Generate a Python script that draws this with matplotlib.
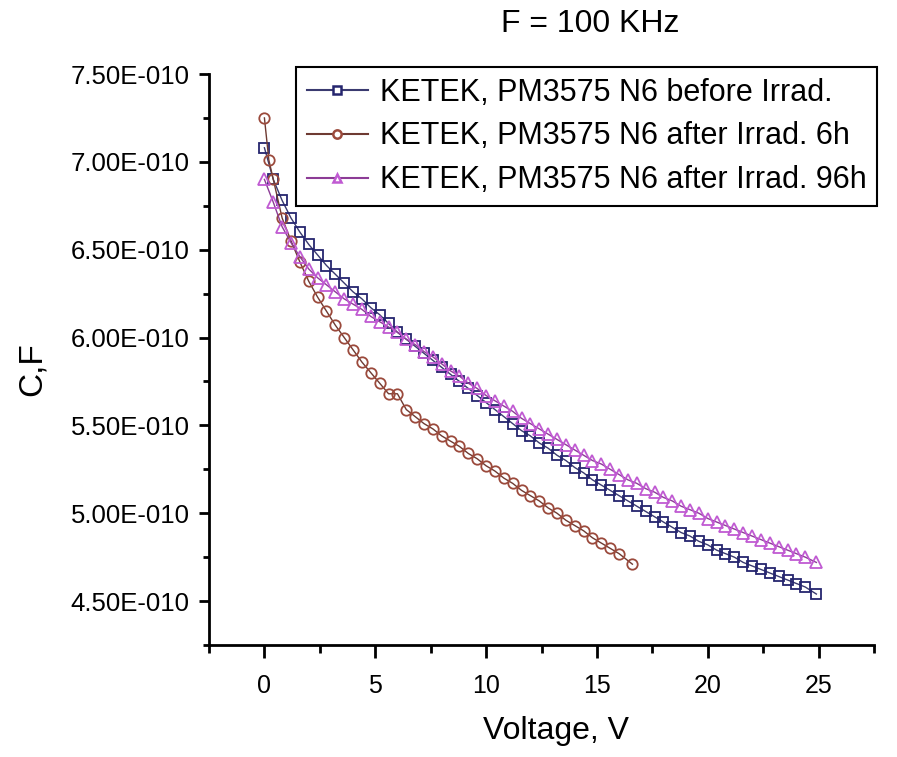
import numpy as np
import matplotlib
matplotlib.use("Agg")
import matplotlib.pyplot as plt
from matplotlib.ticker import MultipleLocator, FuncFormatter
from matplotlib.lines import Line2D

plt.rcParams['font.family'] = ['Liberation Sans', 'DejaVu Sans']

# ---- data (capacitance in units of 1e-10 F) ----
volts = [0.0, 0.4, 0.8, 1.2, 1.6, 2.0, 2.4, 2.8, 3.2, 3.6, 4.0, 4.4, 4.8, 5.2, 5.6,
         6.0, 6.4, 6.8, 7.2, 7.6, 8.0, 8.4, 8.8, 9.2, 9.6, 10.0, 10.4, 10.8, 11.2, 11.6,
         12.0, 12.4, 12.8, 13.2, 13.6, 14.0, 14.4, 14.8, 15.2, 15.6, 16.0, 16.4, 16.8,
         17.2, 17.6, 18.0, 18.4, 18.8, 19.2, 19.6, 20.0, 20.4, 20.8, 21.2, 21.6, 22.0,
         22.4, 22.8, 23.2, 23.6, 24.0, 24.4, 24.9]

c_before = [7.08, 6.90, 6.78, 6.68, 6.60, 6.53, 6.47, 6.41, 6.36, 6.31, 6.26, 6.22, 6.17, 6.13, 6.08,
            6.03, 5.99, 5.95, 5.91, 5.87, 5.83, 5.79, 5.75, 5.71, 5.67, 5.63, 5.59, 5.55, 5.51, 5.47,
            5.44, 5.40, 5.37, 5.33, 5.30, 5.26, 5.23, 5.19, 5.16, 5.13, 5.10, 5.07, 5.04,
            5.01, 4.98, 4.95, 4.92, 4.89, 4.87, 4.84, 4.82, 4.79, 4.77, 4.75, 4.72, 4.70,
            4.68, 4.66, 4.64, 4.62, 4.60, 4.58, 4.54]

c_96h = [6.90, 6.77, 6.63, 6.54, 6.46, 6.39, 6.34, 6.30, 6.26, 6.22, 6.19, 6.16, 6.12, 6.09, 6.06,
         6.03, 5.99, 5.96, 5.92, 5.89, 5.85, 5.81, 5.78, 5.74, 5.71, 5.67, 5.64, 5.61, 5.58, 5.54,
         5.51, 5.48, 5.45, 5.42, 5.39, 5.36, 5.33, 5.30, 5.28, 5.25, 5.22, 5.19, 5.17,
         5.14, 5.12, 5.09, 5.07, 5.04, 5.02, 5.00, 4.97, 4.95, 4.93, 4.91, 4.89, 4.87,
         4.85, 4.83, 4.81, 4.79, 4.77, 4.75, 4.72]

volts_6h = [0.0, 0.2, 0.4, 0.8, 1.2, 1.6, 2.0, 2.4, 2.8, 3.2, 3.6, 4.0, 4.4, 4.8, 5.2, 5.6,
            6.0, 6.4, 6.8, 7.2, 7.6, 8.0, 8.4, 8.8, 9.2, 9.6, 10.0, 10.4, 10.8, 11.2, 11.6,
            12.0, 12.4, 12.8, 13.2, 13.6, 14.0, 14.4, 14.8, 15.2, 15.6, 16.0, 16.6]
c_6h = [7.25, 7.01, 6.90, 6.68, 6.55, 6.43, 6.32, 6.23, 6.15, 6.07, 6.00, 5.93, 5.86, 5.80, 5.74, 5.68,
        5.68, 5.59, 5.55, 5.51, 5.48, 5.44, 5.41, 5.38, 5.34, 5.31, 5.27, 5.24, 5.20, 5.17, 5.13,
        5.10, 5.07, 5.03, 5.00, 4.96, 4.93, 4.90, 4.86, 4.83, 4.80, 4.77, 4.71]

labels = ["KETEK, PM3575 N6 before Irrad.",
          "KETEK, PM3575 N6 after Irrad. 6h",
          "KETEK, PM3575 N6 after Irrad. 96h"]

x_ticks = [0, 5, 10, 15, 20, 25]
y_ticks = [4.5, 5.0, 5.5, 6.0, 6.5, 7.0, 7.5]

W, H = 897, 757
fig = plt.figure(figsize=(W / 100, H / 100), dpi=100)
ax = fig.add_axes([209 / W, 1 - 645 / H, (874 - 209) / W, (645 - 74) / H])

scale = 1e-10
styles = [
    dict(marker='s', ms=7, line='#3a3a70', edge='#25256e'),
    dict(marker='o', ms=7.5, line='#6e3a32', edge='#9b4a3c'),
    dict(marker='^', ms=8, line='#8c3c96', edge='#c05ad2'),
]
series = [(volts, c_before), (volts_6h, c_6h), (volts, c_96h)]
for (xv, yv), st, lab, z in zip(series, styles, labels, [3, 3, 4]):
    ax.plot(xv, np.array(yv) * scale, '-', color=st['line'], lw=1.0,
            marker=st['marker'], ms=st['ms'], mfc='none', mec=st['edge'], mew=1.3, zorder=z)

ax.set_xlim(-2.5, 27.5)
ax.set_ylim(4.25e-10, 7.5e-10)
ax.set_xticks(x_ticks)
ax.xaxis.set_minor_locator(MultipleLocator(2.5))
ax.set_yticks([v * scale for v in y_ticks])
ax.yaxis.set_minor_locator(MultipleLocator(0.25e-10))


def yfmt(v, pos):
    m, e = f"{v:.2E}".split('E')
    ei = int(e)
    sign = '-' if ei < 0 else '+'
    return f"{m}E{sign}{abs(ei):03d}"


ax.yaxis.set_major_formatter(FuncFormatter(yfmt))

for s in ['top', 'right']:
    ax.spines[s].set_visible(False)
for s in ['left', 'bottom']:
    ax.spines[s].set_linewidth(2.0)

ax.tick_params(axis='y', which='major', direction='out', length=7, width=2, labelsize=18.5, pad=7)
ax.tick_params(axis='y', which='minor', direction='out', length=4, width=2)
ax.tick_params(axis='x', which='major', direction='out', length=9, width=2, labelsize=18, pad=12)
ax.tick_params(axis='x', which='minor', direction='out', length=6, width=2)

fig.text(590 / W, 1 - 24 / H, "F = 100 KHz", fontsize=23, ha='center', va='center')
fig.text(556 / W, 1 - 731 / H, "Voltage, V", fontsize=23, ha='center', va='center')
fig.text(32 / W, 1 - 369 / H, "C,F", fontsize=24, ha='center', va='center', rotation=90)

handles = [Line2D([], [], color=st['line'], lw=1.5, marker=st['marker'],
                  ms=st['ms'] * 0.8, mfc='white', mec=st['edge'], mew=1.8)
           for st in styles]
leg = ax.legend(handles, labels, loc='upper left', bbox_to_anchor=(296 / W, 1 - 67 / H),
                bbox_transform=fig.transFigure, fontsize=22, frameon=True,
                fancybox=False, edgecolor='black', framealpha=1.0,
                handlelength=2.0, handletextpad=0.4, labelspacing=0.45,
                borderpad=0.35, borderaxespad=0)
leg.get_frame().set_linewidth(1.5)

fig.savefig("out.png", dpi=100)
